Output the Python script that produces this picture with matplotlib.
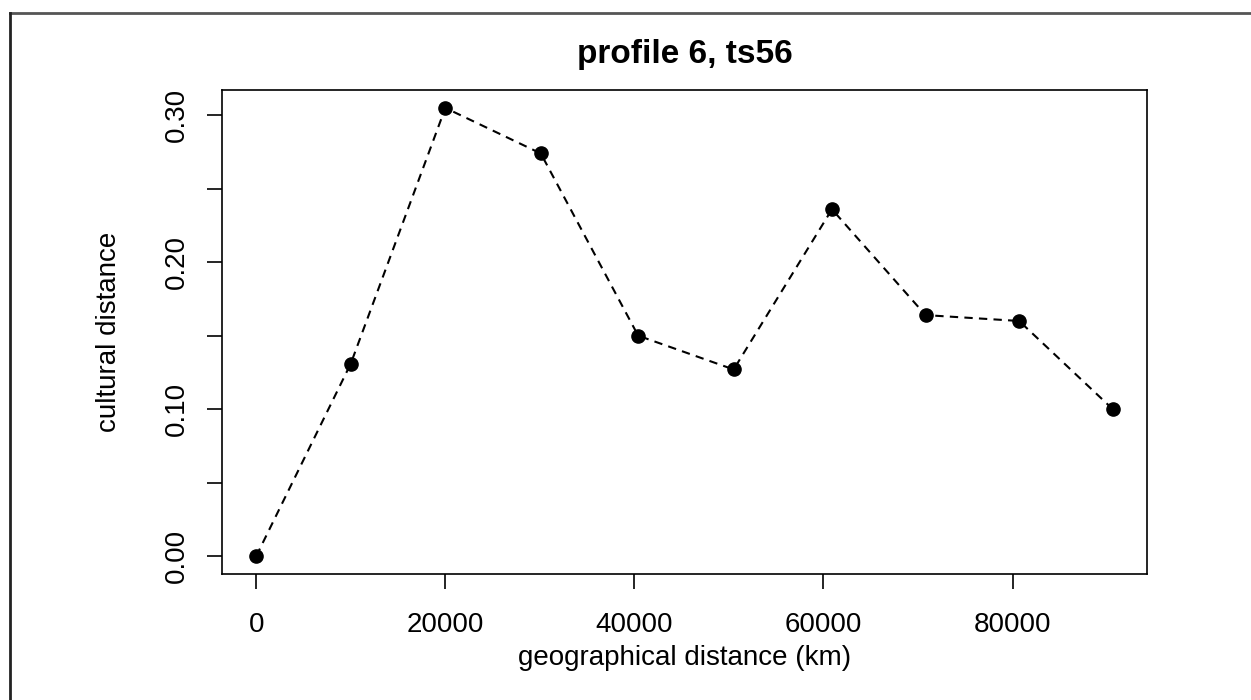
import matplotlib
matplotlib.use("Agg")
from matplotlib import pyplot as plt
from matplotlib.lines import Line2D

# Data
geo_distance = [0, 10000, 20000, 30100, 40400, 50500, 60900, 70800, 80700, 90600]
cultural_distance = [0.0, 0.131, 0.305, 0.274, 0.150, 0.127, 0.236, 0.164, 0.160, 0.100]
x_ticks = [0, 20000, 40000, 60000, 80000]
y_ticks = [0.00, 0.05, 0.10, 0.15, 0.20, 0.25, 0.30]
y_tick_labels = ["0.00", "", "0.10", "", "0.20", "", "0.30"]

plt.rcParams['font.family'] = ['Liberation Sans', 'DejaVu Sans']

W, H = 1251, 700
fig = plt.figure(figsize=(W / 100, H / 100), dpi=100)
ax = fig.add_axes([222 / W, 1 - 574 / H, (1147 - 222) / W, (574 - 90) / H])

# Profile line
ax.plot(geo_distance, cultural_distance, color='black', linestyle='--', dashes=(4, 3),
        linewidth=1.5, marker='o', markersize=9.5, markerfacecolor='black', markeredgecolor='black')

# R-style axis ranges (4% padding)
xpad = 0.04 * (max(geo_distance) - min(geo_distance))
ypad = 0.04 * (max(cultural_distance) - min(cultural_distance))
ax.set_xlim(min(geo_distance) - xpad, max(geo_distance) + xpad)
ax.set_ylim(min(cultural_distance) - ypad, max(cultural_distance) + ypad)

ax.set_xticks(x_ticks)
ax.set_xticklabels([str(t) for t in x_ticks])
ax.set_yticks(y_ticks)
ax.set_yticklabels(y_tick_labels, rotation=90, va='center')
ax.tick_params(axis='both', direction='out', length=11, width=1.2, labelsize=20, color='black')
ax.tick_params(axis='x', pad=16)
ax.tick_params(axis='y', pad=12)

for spine in ax.spines.values():
    spine.set_linewidth(1.2)

ax.set_title('profile 6, ts56', fontsize=24, fontweight='bold', pad=19.5)
ax.set_xlabel('geographical distance (km)', fontsize=20)
ax.set_ylabel('cultural distance', fontsize=20)
ax.xaxis.set_label_coords(0.5, -0.147)
ax.yaxis.set_label_coords(-0.108, 0.5)

# Outer frame (top and left edges visible in the reference)
fig.add_artist(Line2D([9.5 / W, 1], [1 - 12.5 / H, 1 - 12.5 / H], transform=fig.transFigure,
                      color='#555555', linewidth=2))
fig.add_artist(Line2D([9.5 / W, 9.5 / W], [0, 1 - 12.5 / H], transform=fig.transFigure,
                      color='#222222', linewidth=2))

fig.savefig('out.png', dpi=100, facecolor='white')
